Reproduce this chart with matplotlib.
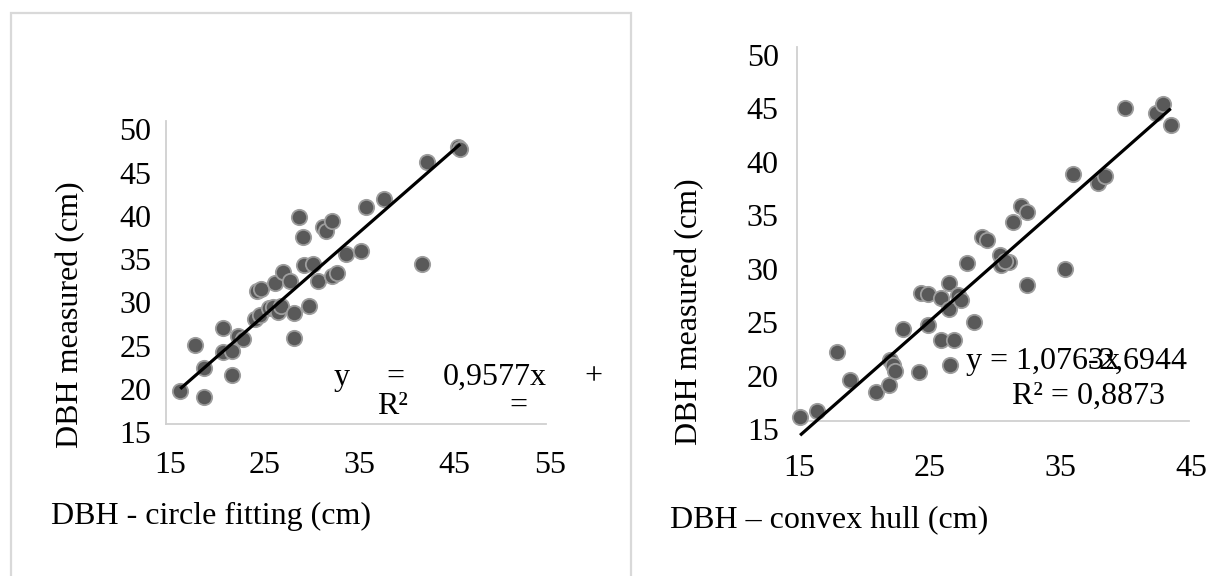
import matplotlib
matplotlib.use("Agg")
import matplotlib.pyplot as plt
import matplotlib.transforms as mtransforms
from matplotlib.patches import Rectangle
import numpy as np

plt.rcParams['font.family'] = ['Liberation Serif', 'DejaVu Serif']

# Left panel: DBH from circle fitting vs measured DBH
circle_x = [16.5, 19.0, 18.1, 19.0, 21.0, 21.0, 22.0, 22.0, 22.6, 23.1, 24.4, 24.9,
            24.6, 25.0, 25.8, 26.3, 26.8, 27.1, 26.5, 27.3, 28.1, 28.5, 28.5, 29.0,
            29.4, 29.5, 30.5, 30.1, 31.0, 31.5, 31.9, 32.5, 32.5, 33.0, 34.0, 35.5,
            36.1, 38.0, 42.0, 42.5, 45.8, 46.0]
circle_y = [18.8, 18.1, 24.2, 21.5, 26.1, 23.4, 23.5, 20.7, 25.2, 24.9, 27.2, 27.6,
            30.4, 30.6, 28.4, 28.6, 28.0, 28.7, 31.3, 32.6, 31.6, 27.9, 25.0, 38.9,
            36.6, 33.4, 33.5, 28.7, 31.6, 37.8, 37.3, 38.5, 32.1, 32.5, 34.7, 35.0,
            40.1, 41.0, 33.5, 45.3, 47.0, 46.8]
circle_slope = 0.9577
circle_intercept = 3.3

# Right panel: DBH from convex hull vs measured DBH
hull_x = [15.2, 16.5, 18.0, 19.0, 21.0, 22.0, 22.1, 22.3, 22.5, 23.1, 24.3, 24.5,
          25.0, 25.0, 26.0, 26.0, 26.6, 26.6, 26.7, 27.0, 27.3, 27.5, 28.5, 28.0,
          29.1, 29.5, 30.5, 30.6, 31.2, 30.9, 31.5, 32.1, 32.6, 32.6, 35.5, 36.1,
          38.0, 38.6, 40.1, 42.5, 43.0, 43.6]
hull_y = [15.4, 15.9, 21.5, 18.8, 17.7, 18.4, 20.7, 20.2, 19.7, 23.6, 19.6, 27.0,
          26.9, 24.0, 26.5, 22.6, 27.9, 25.5, 20.2, 22.6, 26.8, 26.3, 24.3, 29.8,
          32.2, 31.9, 30.5, 29.6, 29.9, 30.0, 33.6, 35.1, 34.6, 27.7, 29.2, 38.1,
          37.3, 37.9, 44.3, 43.8, 44.7, 42.7]
hull_slope = 1.0763
hull_intercept = -2.6944

x_ticks_left = [15, 25, 35, 45, 55]
x_ticks_right = [15, 25, 35, 45]
y_ticks = [15, 20, 25, 30, 35, 40, 45, 50]

W, H = 1229, 576
FS = 23
fig = plt.figure(figsize=(W / 100, H / 100), dpi=100)


def px_rect(x0, x1, ytop, ybot):
    return [x0 / W, 1 - ybot / H, (x1 - x0) / W, (ybot - ytop) / H]


def fx(x):
    return x / W


def fy(y):
    return 1 - y / H


# light frame around the left chart
fig.add_artist(Rectangle((fx(11), fy(700)), fx(631) - fx(11), fy(13) - fy(700),
                         transform=fig.transFigure, fill=False,
                         edgecolor='#d9d9d9', linewidth=1.6))


def draw_panel(rect, xs, ys, slope, intercept, xticks, xlim, xpad, ypad, xshift):
    ax = fig.add_axes(rect)
    ax.scatter(xs, ys, s=122, color='#595959', edgecolor='#9e9e9e',
               linewidth=1.3, zorder=3, clip_on=False)
    xs_line = np.array([min(xs), max(xs)])
    ax.plot(xs_line, slope * xs_line + intercept, color='black', lw=2.3,
            solid_capstyle='butt', zorder=4, clip_on=False)
    ax.set_xlim(*xlim)
    ax.set_ylim(15, 50)
    ax.set_xticks(xticks)
    ax.set_yticks(y_ticks)
    ax.set_xticklabels([str(t) for t in xticks], fontsize=FS)
    ax.set_yticklabels([str(t) for t in y_ticks], fontsize=FS)
    ax.tick_params(axis='x', length=0, pad=xpad)
    ax.tick_params(axis='y', length=0, pad=ypad)
    for sp in ['top', 'right']:
        ax.spines[sp].set_visible(False)
    for sp in ['left', 'bottom']:
        ax.spines[sp].set_color('#d0d0d0')
        ax.spines[sp].set_linewidth(1.3)
    ax.patch.set_alpha(0)
    off_y = mtransforms.ScaledTranslation(0, -8 / 100, fig.dpi_scale_trans)
    for lab in ax.get_yticklabels():
        lab.set_transform(lab.get_transform() + off_y)
    off_x = mtransforms.ScaledTranslation(xshift / 100, 0, fig.dpi_scale_trans)
    for lab in ax.get_xticklabels():
        lab.set_transform(lab.get_transform() + off_x)
    return ax


axl = draw_panel(px_rect(166, 545.7, 121.2, 424.3), circle_x, circle_y,
                 circle_slope, circle_intercept, x_ticks_left, (15, 55), 19.5, 10.5, 4)
axr = draw_panel(px_rect(797.5, 1189, 47, 421), hull_x, hull_y,
                 hull_slope, hull_intercept, x_ticks_right, (15, 45), 24, 13.5, 2)

# axis titles
fig.text(fx(71), fy(315), 'DBH measured (cm)', rotation=90, ha='center', va='center', fontsize=FS)
fig.text(fx(690), fy(312), 'DBH measured (cm)', rotation=90, ha='center', va='center', fontsize=FS)
fig.text(fx(51), fy(516), 'DBH - circle fitting (cm)', ha='left', va='center', fontsize=FS)
fig.text(fx(670), fy(520), 'DBH \u2013 convex hull (cm)', ha='left', va='center', fontsize=FS)

# trendline labels (left one is squeezed and cut off, as in the source)
fig.text(fx(342), fy(377), 'y', ha='center', va='center', fontsize=FS)
fig.text(fx(395), fy(377), '=', ha='center', va='center', fontsize=FS)
fig.text(fx(443), fy(377), '0,9577x', ha='left', va='center', fontsize=FS)
fig.text(fx(593), fy(377), '+', ha='center', va='center', fontsize=FS)
fig.text(fx(392), fy(406), 'R\u00b2', ha='center', va='center', fontsize=FS)
fig.text(fx(518), fy(406), '=', ha='center', va='center', fontsize=FS)

# right label: the source squeezes "x" and "- 2" on top of each other
fig.text(fx(965), fy(362), r'y = 1,0763x$\!\!\!\!\!\!$-2,6944', ha='left', va='center',
         fontsize=FS)
fig.text(fx(1011.7), fy(396.7), 'R\u00b2 = 0,8873', ha='left', va='center', fontsize=FS)

fig.savefig('out.png', dpi=100)
